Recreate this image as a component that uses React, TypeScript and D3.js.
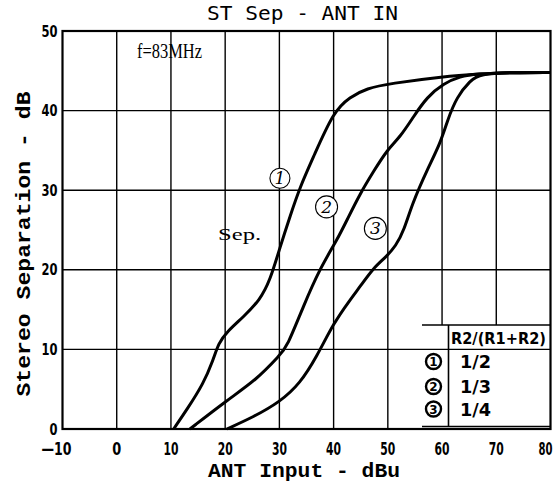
import * as d3 from 'd3';

// ST separation vs antenna input
const sep1X = [10.5, 13, 16, 17.8, 18.8, 20.3, 23.4, 26.4, 28.3, 30.1, 32, 33.8, 36.3, 40, 43, 46.1, 50.4, 60.3, 67, 73, 80];
const sep1Y = [0, 2.5, 5.7, 8.7, 10.8, 12.2, 14.1, 16.2, 18.7, 22.8, 26.8, 30.4, 34.2, 39.9, 41.7, 42.8, 43.4, 44.3, 44.6, 44.8, 44.8];

const sep2X = [13.5, 20.3, 25.8, 30.1, 31.4, 34.4, 37.5, 40.6, 42.5, 44.9, 47.5, 49.8, 52.3, 54.7, 57.2, 60.3, 63.3, 66.4, 73, 80];
const sep2Y = [0, 3.6, 6.2, 9.3, 10.3, 15.4, 20.2, 23.7, 26.3, 29.6, 32.5, 35, 36.7, 39.2, 41.7, 43.4, 44.3, 44.6, 44.8, 44.8];

const sep3X = [20.3, 25.2, 30.1, 33.8, 36.9, 40, 43, 45, 47.3, 49.5, 51.5, 53, 54.5, 57.2, 59.7, 61, 62.7, 65.2, 67, 73, 80];
const sep3Y = [0, 1.5, 3.4, 5.7, 9.1, 13.3, 16.2, 18, 20.2, 21.5, 23, 25, 28.3, 32.5, 35.9, 38.8, 41.7, 43.8, 44.6, 44.8, 44.8];

const xTicks = [-10, 0, 10, 20, 30, 40, 50, 60, 70, 80];
const yTicks = [0, 10, 20, 30, 40, 50];

const curveLabels = ['1', '2', '3'];
const curveLabelX = [30.1, 38.7, 47.7];
const curveLabelY = [31.5, 27.9, 25.2];

const ratioLabels = ['1/2', '1/3', '1/4'];

const W = 560;
const H = 484;

export default function App() {
  const x = d3.scaleLinear().domain([-10, 80]).range([62.5, 550.5]);
  const y = d3.scaleLinear().domain([0, 50]).range([429, 31]);

  const line = d3
    .line<[number, number]>()
    .x((d) => x(d[0]))
    .y((d) => y(d[1]))
    .curve(d3.curveBasis);

  const series = [
    d3.zip(sep1X, sep1Y) as [number, number][],
    d3.zip(sep2X, sep2Y) as [number, number][],
    d3.zip(sep3X, sep3Y) as [number, number][],
  ];

  const tickFont = "'DejaVu Sans', sans-serif";
  const monoBold = "'Liberation Mono', 'DejaVu Sans Mono', monospace";

  // legend table box (pixel layout)
  const tL = 422;
  const tDiv = 448.5;
  const tTop = 325;
  const tBot = 426.5;
  const tR = x(80);
  const rowY = [361.5, 386.5, 409];

  return (
    <svg
      width={W}
      height={H}
      style={{ position: 'absolute', left: 0, top: 0, background: '#fff' }}
    >
      <rect width={W} height={H} fill="#fff" />

      {/* grid */}
      {xTicks.slice(1, -1).map((t) => (
        <line key={'gx' + t} x1={x(t)} x2={x(t)} y1={y(50)} y2={y(0)} stroke="#000" strokeWidth={1.4} />
      ))}
      {yTicks.slice(1, -1).map((t) => (
        <line key={'gy' + t} x1={x(-10)} x2={x(80)} y1={y(t)} y2={y(t)} stroke="#000" strokeWidth={1.4} />
      ))}

      {/* legend table background hides grid */}
      <rect x={tL} y={tTop} width={tR - tL} height={y(0) - tTop} fill="#fff" />
      <line x1={tL} x2={tR} y1={tTop} y2={tTop} stroke="#000" strokeWidth={1.6} />
      <line x1={tL} x2={tR} y1={y(10)} y2={y(10)} stroke="#000" strokeWidth={1.4} />
      <line x1={tL} x2={tR} y1={tBot} y2={tBot} stroke="#000" strokeWidth={1.6} />
      <line x1={tDiv} x2={tDiv} y1={tTop} y2={tBot} stroke="#000" strokeWidth={1.6} />
      <text
        x={451}
        y={344}
        fontFamily={tickFont}
        fontWeight="bold"
        fontSize={15}
        textLength={95}
        lengthAdjust="spacingAndGlyphs"
      >
        R2/(R1+R2)
      </text>
      {ratioLabels.map((r, i) => (
        <g key={r}>
          <circle cx={433.5} cy={rowY[i]} r={7.5} fill="#fff" stroke="#000" strokeWidth={2.4} />
          <text
            x={433.5}
            y={rowY[i] + 4.5}
            textAnchor="middle"
            fontFamily={tickFont}
            fontWeight="bold"
            fontSize={12}
          >
            {curveLabels[i]}
          </text>
          <text
            x={460}
            y={rowY[i] + 6.5}
            fontFamily={tickFont}
            fontWeight="bold"
            fontSize={18}
            textLength={31}
            lengthAdjust="spacingAndGlyphs"
          >
            {r}
          </text>
        </g>
      ))}

      {/* frame */}
      <rect
        x={x(-10)}
        y={y(50)}
        width={x(80) - x(-10)}
        height={y(0) - y(50)}
        fill="none"
        stroke="#000"
        strokeWidth={2.2}
      />

      {/* curves */}
      {series.map((s, i) => (
        <path key={'s' + i} d={line(s) ?? ''} fill="none" stroke="#000" strokeWidth={3} strokeLinejoin="round" />
      ))}

      {/* curve markers */}
      {curveLabels.map((c, i) => (
        <g key={'c' + c}>
          <circle
            cx={x(curveLabelX[i])}
            cy={y(curveLabelY[i])}
            r={i === 0 ? 10 : 11}
            fill="#fff"
            stroke="#000"
            strokeWidth={1.1}
          />
          <text
            x={x(curveLabelX[i])}
            y={y(curveLabelY[i]) + 6}
            textAnchor="middle"
            fontFamily="'DejaVu Serif', serif"
            fontStyle="italic"
            fontSize={17}
          >
            {c}
          </text>
        </g>
      ))}
      <text x={x(18.7)} y={y(23.7)} fontFamily="'Liberation Serif', serif" fontSize={17} textLength={43} lengthAdjust="spacingAndGlyphs">
        Sep.
      </text>
      <text x={137} y={58} fontFamily="'Liberation Serif', serif" fontSize={20} textLength={65} lengthAdjust="spacingAndGlyphs">
        f=83MHz
      </text>

      {/* tick labels */}
      {xTicks.map((t) => {
        const label = t < 0 ? '\u2014' + Math.abs(t) : String(t);
        const len = t < 0 ? 30 : label.length === 1 ? 9 : 15;
        return (
          <text
            key={'tx' + t}
            x={x(t) + (t < 0 ? -6 : t === 80 ? -5 : 0)}
            y={455}
            textAnchor="middle"
            fontFamily={tickFont}
            fontWeight="bold"
            fontSize={18}
            textLength={t === 80 ? 14 : len}
            lengthAdjust="spacingAndGlyphs"
          >
            {label}
          </text>
        );
      })}
      {yTicks.map((t) => (
        <text
          key={'ty' + t}
          x={57.5}
          y={y(t) + 5.5}
          textAnchor="end"
          fontFamily={tickFont}
          fontWeight="bold"
          fontSize={16}
          textLength={t === 0 ? 8 : 16}
          lengthAdjust="spacingAndGlyphs"
        >
          {t}
        </text>
      ))}

      {/* titles */}
      <text
        x={302.5}
        y={20}
        textAnchor="middle"
        fontFamily="'DejaVu Sans Mono', monospace"
        fontSize={19}
        textLength={191}
        lengthAdjust="spacingAndGlyphs"
      >
        ST Sep - ANT IN
      </text>
      <text
        x={304}
        y={477}
        textAnchor="middle"
        fontFamily={monoBold}
        fontWeight="bold"
        fontSize={21}
        textLength={192}
        lengthAdjust="spacingAndGlyphs"
      >
        ANT Input - dBu
      </text>
      <text
        transform="translate(30,244) rotate(-90)"
        textAnchor="middle"
        fontFamily={monoBold}
        fontWeight="bold"
        fontSize={21}
        textLength={305}
        lengthAdjust="spacingAndGlyphs"
      >
        Stereo Separation - dB
      </text>
    </svg>
  );
}
